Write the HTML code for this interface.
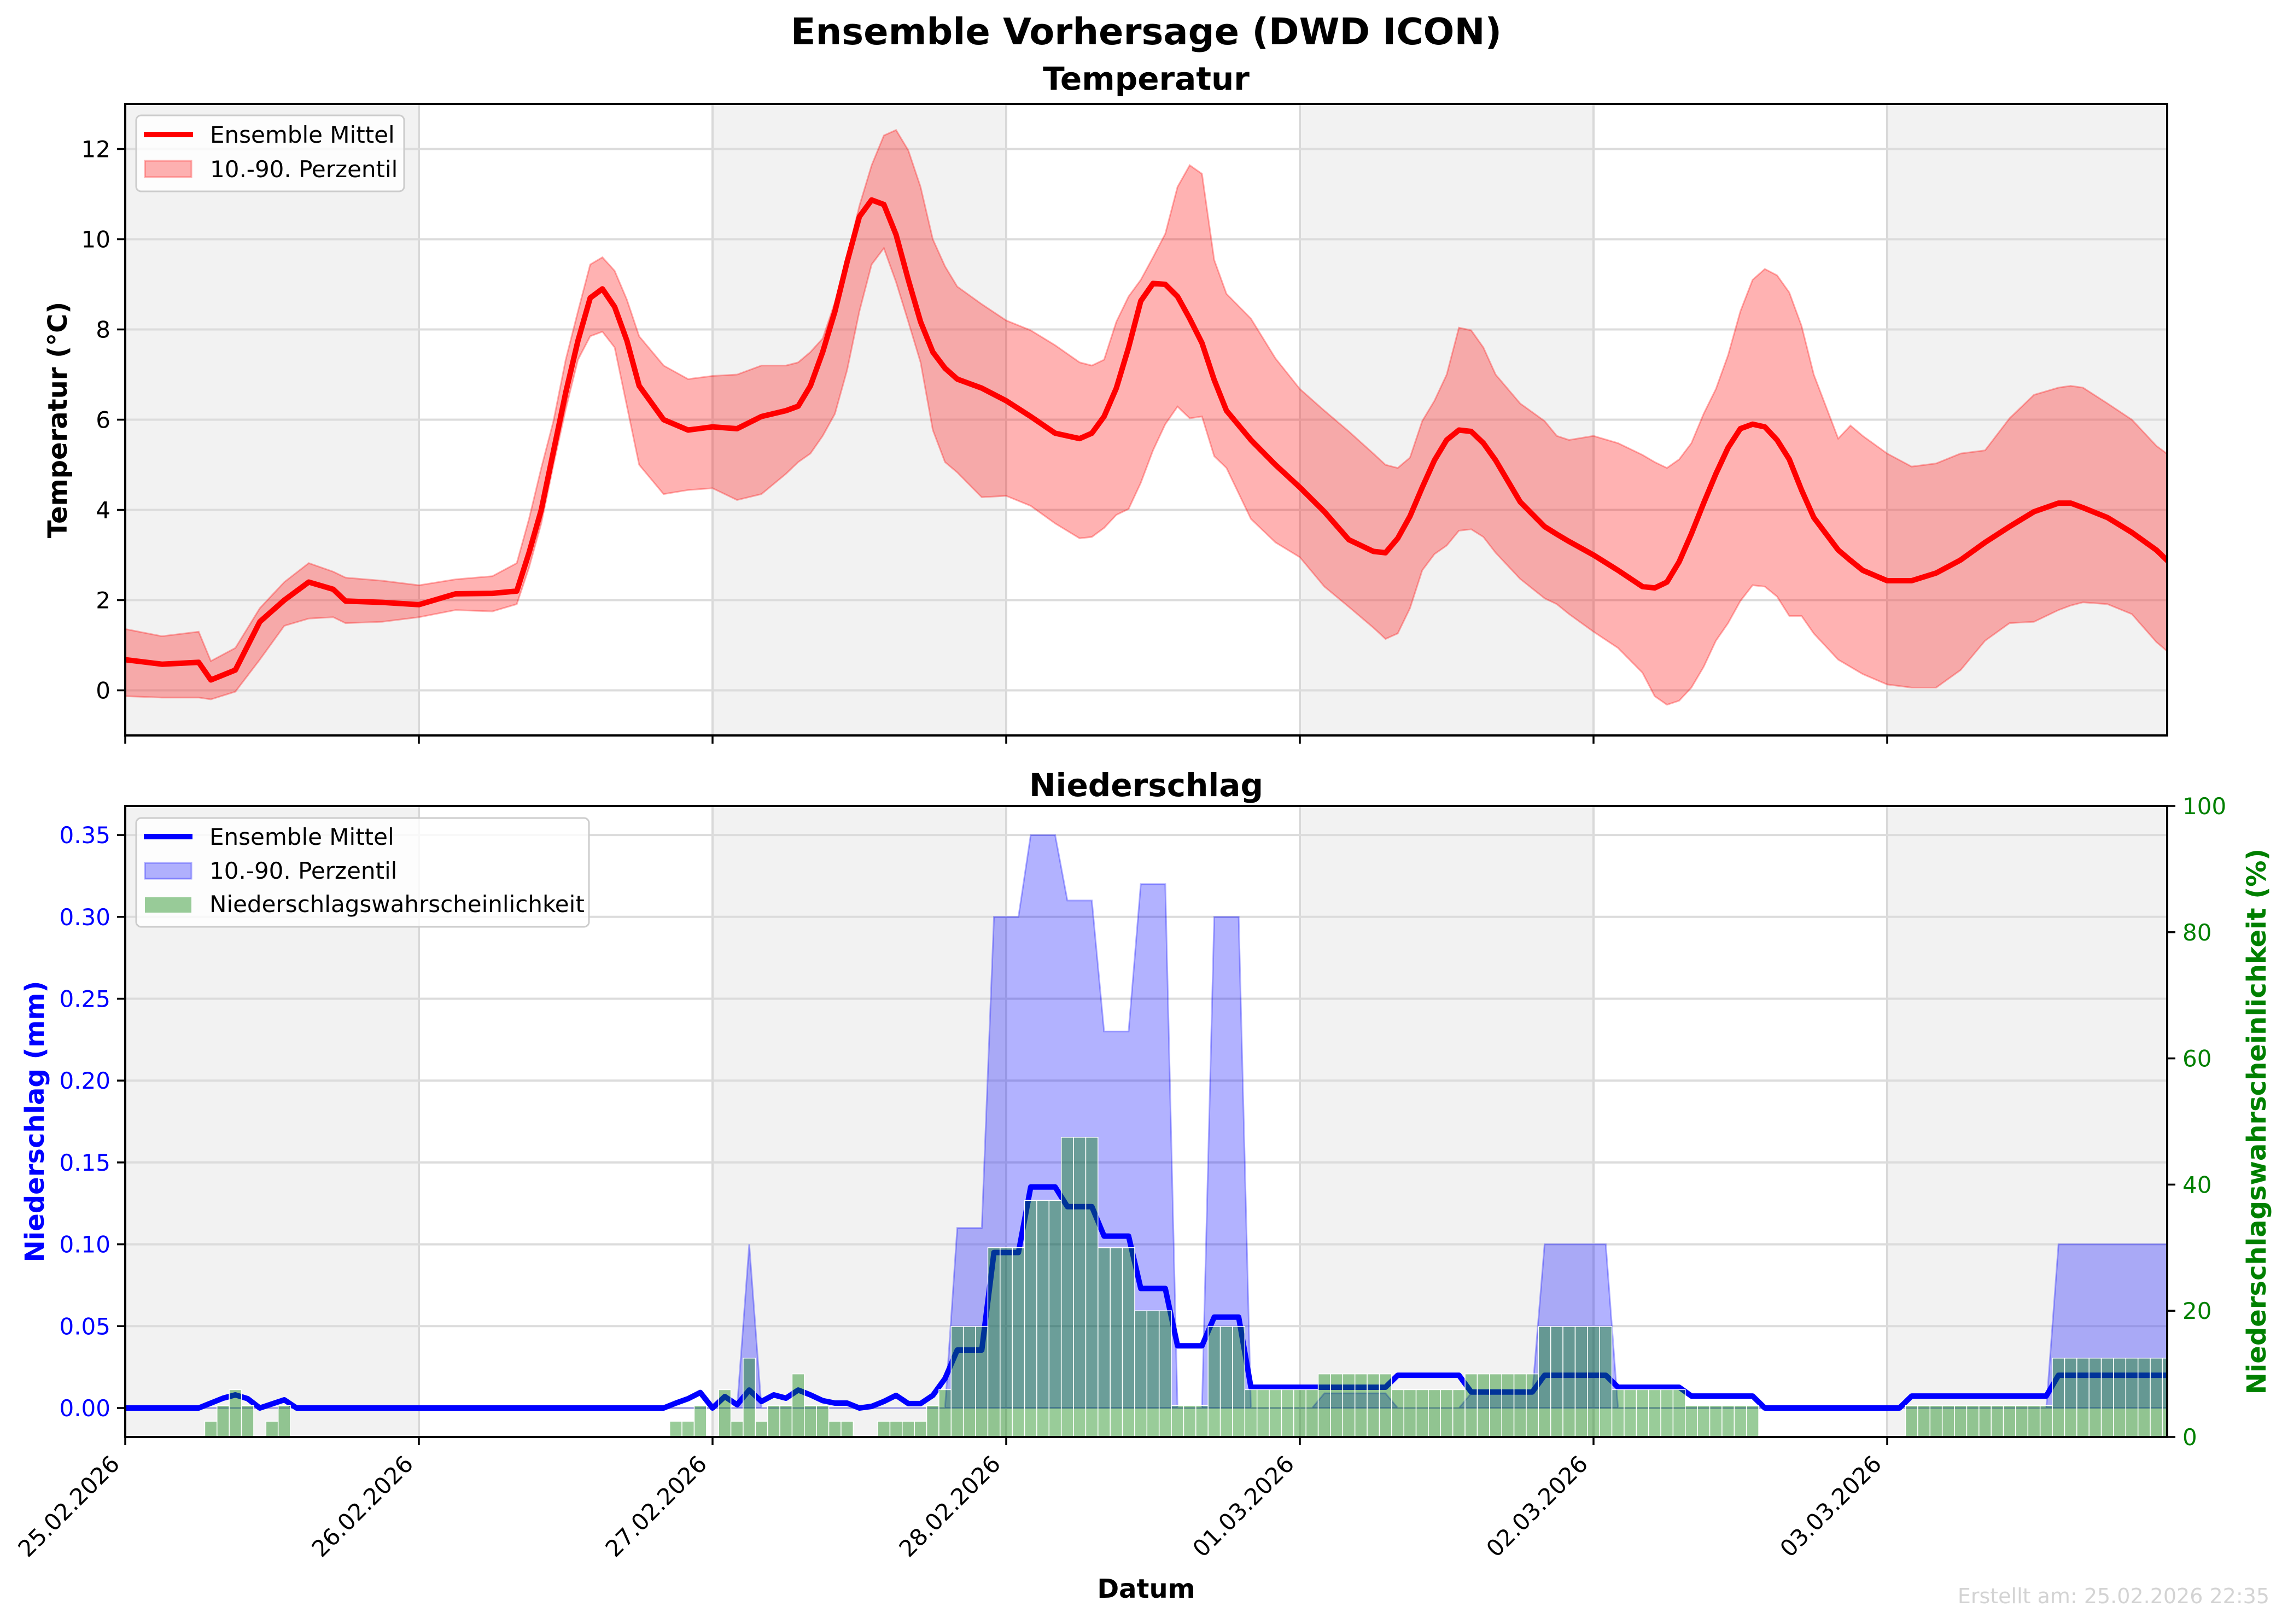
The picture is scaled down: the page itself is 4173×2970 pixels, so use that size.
<!DOCTYPE html>
<html><head><meta charset="utf-8"><title>Ensemble Vorhersage (DWD ICON)</title>
<style>html,body{margin:0;padding:0;background:#fff}svg{display:block;font-family:"DejaVu Sans","Liberation Sans",sans-serif}</style>
</head><body>
<svg id="fig" xmlns="http://www.w3.org/2000/svg" width="4173" height="2970" viewBox="0 0 4173 2970">
<defs>
<clipPath id="clipT"><rect x="229" y="190" width="3734" height="1155"/></clipPath>
<clipPath id="clipP"><rect x="229" y="1474" width="3734" height="1154"/></clipPath>
</defs>
<rect x="0" y="0" width="4173" height="2970" fill="#fff"/>
<text x="2096" y="81" text-anchor="middle" font-size="67" font-weight="bold">Ensemble Vorhersage (DWD ICON)</text>
<text x="2096" y="164" text-anchor="middle" font-size="58" font-weight="bold">Temperatur</text>
<text x="2096" y="1456" text-anchor="middle" font-size="58" font-weight="bold">Niederschlag</text>
<g id="gT"></g>
<g id="gP"></g>
<text transform="translate(122,768) rotate(-90)" text-anchor="middle" font-size="48" font-weight="bold">Temperatur (°C)</text>
<text transform="translate(80,2051) rotate(-90)" text-anchor="middle" font-size="48" font-weight="bold" fill="#0000ff">Niederschlag (mm)</text>
<text transform="translate(4143,2051) rotate(-90)" text-anchor="middle" font-size="48" font-weight="bold" fill="#008000">Niederschlagswahrscheinlichkeit (%)</text>
<text x="2096" y="2922" text-anchor="middle" font-size="48" font-weight="bold">Datum</text>
<text x="4150" y="2932" text-anchor="end" font-size="38" fill="#d3d3d3">Erstellt am: 25.02.2026 22:35</text>
<g>
<rect x="249" y="211" width="490" height="139" rx="9" fill="#ffffff" fill-opacity="0.8" stroke="#cccccc" stroke-width="3"/>
<line x1="263" y1="246" x2="353" y2="246" stroke="#ff0000" stroke-width="10"/>
<text x="384" y="261" font-size="42">Ensemble Mittel</text>
<rect x="265" y="294" width="85" height="30" fill="#ff0000" fill-opacity="0.3" stroke="#ff0000" stroke-opacity="0.3" stroke-width="3"/>
<text x="384" y="324" font-size="42">10.-90. Perzentil</text>
</g>
<g id="legP">
<rect x="249" y="1496" width="828" height="199" rx="9" fill="#ffffff" fill-opacity="0.8" stroke="#cccccc" stroke-width="3"/>
<line x1="263" y1="1530" x2="352" y2="1530" stroke="#0000ff" stroke-width="10"/>
<text x="383" y="1545" font-size="42">Ensemble Mittel</text>
<rect x="265" y="1578" width="85" height="29" fill="#0000ff" fill-opacity="0.3" stroke="#0000ff" stroke-opacity="0.3" stroke-width="3"/>
<text x="383" y="1607" font-size="42">10.-90. Perzentil</text>
<rect x="265" y="1641" width="85" height="28" fill="#008000" fill-opacity="0.4"/>
<text x="383" y="1668" font-size="42">Niederschlagswahrscheinlichkeit</text>
</g>
</svg>
<script>
// ---------- data ----------
const dayLabels = ["25.02.2026","26.02.2026","27.02.2026","28.02.2026","01.03.2026","02.03.2026","03.03.2026"];
const tempTicks = [0,2,4,6,8,10,12];
const precipTicks = [0.00,0.05,0.10,0.15,0.20,0.25,0.30,0.35];
const probTicks = [0,20,40,60,80,100];
// temperature: hours since 25.02 00:00
const tempHours = [0,3,6,7,9,11,13,15,17,18,21,24,27,30,32,33,34,35,36,37,38,39,40,41,42,44,46,48,50,52,54,55,56,57,58,59,60,61,62,63,64,65,66,67,68,70,72,74,76,78,79,80,81,82,83,84,85,86,87,88,89,90,92,94,96,98,100,102,103,104,105,106,107,108,109,110,111,112,114,116,117,118,120,122,124,125,126,127,128,129,130,131,132,133,134,135,136,137,138,140,141,142,144,146,148,150,152,154,156,158,159,160,162,164,166,167];
const tempMean = [0.68,0.58,0.62,0.23,0.45,1.52,2.0,2.4,2.24,1.98,1.95,1.9,2.14,2.15,2.2,3.05,4.0,5.3,6.6,7.75,8.7,8.9,8.5,7.75,6.75,6.0,5.77,5.84,5.8,6.07,6.2,6.3,6.75,7.5,8.4,9.5,10.5,10.87,10.77,10.1,9.1,8.17,7.5,7.14,6.9,6.7,6.42,6.07,5.7,5.58,5.7,6.07,6.7,7.6,8.63,9.02,9.0,8.73,8.24,7.7,6.88,6.2,5.55,5.0,4.5,3.96,3.34,3.08,3.05,3.37,3.86,4.5,5.1,5.55,5.77,5.74,5.48,5.1,4.18,3.63,3.46,3.3,3.0,2.66,2.3,2.27,2.4,2.85,3.47,4.15,4.8,5.38,5.8,5.9,5.84,5.55,5.12,4.44,3.83,3.11,2.88,2.66,2.43,2.43,2.6,2.89,3.28,3.63,3.96,4.15,4.15,4.05,3.83,3.5,3.11,2.85];
const tempP90 = [1.36,1.2,1.3,0.65,0.94,1.82,2.4,2.82,2.63,2.5,2.43,2.33,2.46,2.53,2.82,3.8,4.93,5.97,7.33,8.4,9.44,9.6,9.3,8.66,7.85,7.2,6.9,6.97,7.0,7.2,7.2,7.27,7.5,7.8,8.6,9.6,10.74,11.64,12.3,12.42,11.97,11.16,10.0,9.4,8.95,8.56,8.2,7.98,7.65,7.27,7.2,7.33,8.17,8.73,9.1,9.6,10.12,11.16,11.64,11.45,9.54,8.79,8.24,7.36,6.68,6.2,5.74,5.25,5.0,4.93,5.16,5.97,6.42,7.0,8.04,7.98,7.6,7.0,6.36,5.97,5.64,5.55,5.64,5.48,5.22,5.06,4.93,5.12,5.48,6.13,6.68,7.43,8.4,9.1,9.34,9.2,8.82,8.08,7.0,5.58,5.87,5.64,5.25,4.96,5.03,5.25,5.32,6.03,6.55,6.71,6.75,6.71,6.36,6.0,5.42,5.22];
const tempP10 = [-0.13,-0.16,-0.16,-0.2,-0.03,0.68,1.43,1.59,1.62,1.49,1.52,1.62,1.78,1.75,1.91,2.72,3.7,5.0,6.23,7.33,7.85,7.95,7.6,6.3,5.0,4.35,4.44,4.48,4.22,4.35,4.8,5.06,5.25,5.64,6.13,7.1,8.4,9.44,9.8,9.05,8.17,7.27,5.77,5.06,4.83,4.28,4.31,4.09,3.7,3.37,3.4,3.6,3.89,4.02,4.6,5.32,5.9,6.29,6.03,6.07,5.19,4.93,3.8,3.28,2.95,2.3,1.85,1.39,1.14,1.26,1.82,2.66,3.02,3.21,3.54,3.57,3.4,3.05,2.47,2.04,1.91,1.69,1.3,0.94,0.39,-0.13,-0.32,-0.23,0.06,0.52,1.1,1.49,1.98,2.33,2.3,2.08,1.65,1.65,1.26,0.68,0.52,0.36,0.13,0.06,0.06,0.45,1.1,1.49,1.52,1.78,1.88,1.95,1.91,1.69,1.07,0.84];
// precipitation: hourly values, hour 0 .. 167
const precipMean = [
0,0,0,0,0,0,0,0.003,0.006,0.008,0.0057,0,
0.0025,0.005,0,0,0,0,0,0,0,0,0,0,
0,0,0,0,0,0,0,0,0,0,0,0,
0,0,0,0,0,0,0,0,0,0.003,0.0057,0.0095,
0,0.007,0.002,0.011,0.004,0.008,0.006,0.011,0.008,0.0045,0.003,0.003,
0,0.001,0.004,0.0077,0.0027,0.0027,0.0077,0.018,0.0354,0.0354,0.0354,0.095,
0.095,0.095,0.135,0.135,0.135,0.123,0.123,0.123,0.105,0.105,0.105,0.073,
0.073,0.073,0.038,0.038,0.038,0.0555,0.0555,0.0555,0.0127,0.0127,0.0127,0.0127,
0.0127,0.0127,0.0127,0.0127,0.0127,0.0127,0.0127,0.0127,0.02,0.02,0.02,0.02,
0.02,0.02,0.0098,0.0098,0.0098,0.0098,0.0098,0.0098,0.02,0.02,0.02,0.02,
0.02,0.02,0.0127,0.0127,0.0127,0.0127,0.0127,0.0127,0.0073,0.0073,0.0073,0.0073,
0.0073,0.0073,0,0,0,0,0,0,0,0,0,0,
0,0,0.0073,0.0073,0.0073,0.0073,0.0073,0.0073,0.0073,0.0073,0.0073,0.0073,
0.0073,0.0073,0.02,0.02,0.02,0.02,0.02,0.02,0.02,0.02,0.02,0.02];
const precipP90 = [
0,0,0,0,0,0,0,0,0,0,0,0,
0,0,0,0,0,0,0,0,0,0,0,0,
0,0,0,0,0,0,0,0,0,0,0,0,
0,0,0,0,0,0,0,0,0,0,0,0,
0,0,0,0.1,0,0,0,0,0,0,0,0,
0,0,0,0,0,0,0,0,0.11,0.11,0.11,0.30,
0.30,0.30,0.35,0.35,0.35,0.31,0.31,0.31,0.23,0.23,0.23,0.32,
0.32,0.32,0,0,0,0.30,0.30,0.30,0,0,0,0,
0,0,0.009,0.009,0.009,0.009,0.009,0.009,0,0,0,0,
0,0,0.009,0.009,0.009,0.009,0.009,0.009,0.1,0.1,0.1,0.1,
0.1,0.1,0,0,0,0,0,0,0,0,0,0,
0,0,0,0,0,0,0,0,0,0,0,0,
0,0,0,0,0,0,0,0,0,0,0,0,
0,0,0.1,0.1,0.1,0.1,0.1,0.1,0.1,0.1,0.1,0.1];
const precipP10 = [
0,0,0,0,0,0,0,0,0,0,0,0, 0,0,0,0,0,0,0,0,0,0,0,0, 0,0,0,0,0,0,0,0,0,0,0,0,
0,0,0,0,0,0,0,0,0,0,0,0, 0,0,0,0,0,0,0,0,0,0,0,0, 0,0,0,0,0,0,0,0,0,0,0,0,
0,0,0,0,0,0,0,0,0,0,0,0, 0,0,0,0,0,0,0,0,0,0,0,0, 0,0,0,0,0,0,0,0,0,0,0,0,
0,0,0,0,0,0,0,0,0,0,0,0, 0,0,0,0,0,0,0,0,0,0,0,0, 0,0,0,0,0,0,0,0,0,0,0,0,
0,0,0,0,0,0,0,0,0,0,0,0, 0,0,0,0,0,0,0,0,0,0,0,0];
const precipProb = [
0,0,0,0,0,0,0,2.5,5,7.5,5,0,
2.5,5,0,0,0,0,0,0,0,0,0,0,
0,0,0,0,0,0,0,0,0,0,0,0,
0,0,0,0,0,0,0,0,0,2.5,2.5,5,
0,7.5,2.5,12.5,2.5,5,5,10,5,5,2.5,2.5,
0,0,2.5,2.5,2.5,2.5,5,7.5,17.5,17.5,17.5,30,
30,30,37.5,37.5,37.5,47.5,47.5,47.5,30,30,30,20,
20,20,5,5,5,17.5,17.5,17.5,7.5,7.5,7.5,7.5,
7.5,7.5,10,10,10,10,10,10,7.5,7.5,7.5,7.5,
7.5,7.5,10,10,10,10,10,10,17.5,17.5,17.5,17.5,
17.5,17.5,7.5,7.5,7.5,7.5,7.5,7.5,5,5,5,5,
5,5,0,0,0,0,0,0,0,0,0,0,
0,0,5,5,5,5,5,5,5,5,5,5,
5,5,12.5,12.5,12.5,12.5,12.5,12.5,12.5,12.5,12.5,12.5];

// ---------- axes ----------
const L = 229, R = 3963;
const tT = 190, bT = 1345, tP = 1474, bP = 2628;
const pxPerHour = 537 / 24;
const xS = h => L + h * pxPerHour;
const yTemp = v => bT - (v - (-1)) * (bT - tT) / 14;
const yPre = v => 2575 - v * 2994;
const yProb = p => bP - p * (bP - tP) / 100;
const NS = "http://www.w3.org/2000/svg";
function mk(tag, attrs, parent) {
  const e = document.createElementNS(NS, tag);
  for (const k in attrs) e.setAttribute(k, attrs[k]);
  parent.appendChild(e);
  return e;
}
const gT = document.getElementById('gT');
const gP = document.getElementById('gP');
const legP = document.getElementById('legP');

function panelBase(g, top, bot, clip) {
  const inner = mk('g', {'clip-path': 'url(#' + clip + ')'}, g);
  
  
  for (let d = 0; d < dayLabels.length; d += 2) {
    const s = mk('rect', {x: xS(d * 24), y: top, width: 24 * pxPerHour, height: bot - top, fill: '#f2f2f2'}, inner);
    
    
  }
  for (let d = 1; d < dayLabels.length; d++) {
    const gl = mk('line', {x1: xS(d * 24), x2: xS(d * 24), y1: top, y2: bot, stroke: '#d9d9d9', 'stroke-width': 4}, inner);
    
    
  }
  return inner;
}
function frame(g, top, bot, withLabels) {
  const f = mk('rect', {x: L, y: top, width: R - L, height: bot - top, fill: 'none', stroke: '#000', 'stroke-width': 4}, g);
  
  
  for (let d = 0; d < dayLabels.length; d++) {
    const x = xS(d * 24);
    const tk = mk('line', {x1: x, x2: x, y1: bot, y2: bot + 15, stroke: '#000', 'stroke-width': 3.5}, g);
    
    
    if (withLabels) {
      const t = mk('text', {transform: 'translate(' + (x - 8) + ',' + (bot + 52) + ') rotate(-45)', 'text-anchor': 'end', 'font-size': 42}, g);
      t.textContent = dayLabels[d];
      
      
    }
  }
}
function bandPath(xs, hi, lo, xf, yf) {
  let d = '';
  for (let i = 0; i < xs.length; i++) d += (i ? 'L' : 'M') + xf(xs[i]).toFixed(1) + ',' + yf(hi[i]).toFixed(1);
  for (let i = xs.length - 1; i >= 0; i--) d += 'L' + xf(xs[i]).toFixed(1) + ',' + yf(lo[i]).toFixed(1);
  return d + 'Z';
}
function linePath(xs, v, xf, yf) {
  let d = '';
  for (let i = 0; i < xs.length; i++) d += (i ? 'L' : 'M') + xf(xs[i]).toFixed(1) + ',' + yf(v[i]).toFixed(1);
  return d;
}

// ---------- temperature panel ----------
const innerT = panelBase(gT, tT, bT, 'clipT');
tempTicks.forEach(v => {
  const gl = mk('line', {x1: L, x2: R, y1: yTemp(v), y2: yTemp(v), stroke: '#dcdcdc', 'stroke-width': 4}, innerT);
  
  
});
const band = mk('path', {d: bandPath(tempHours, tempP90, tempP10, xS, yTemp), fill: '#ff0000', 'fill-opacity': 0.3, stroke: '#ff0000', 'stroke-opacity': 0.3, 'stroke-width': 3}, innerT);


const tl = mk('path', {d: linePath(tempHours, tempMean, xS, yTemp), fill: 'none', stroke: '#ff0000', 'stroke-width': 10, 'stroke-linejoin': 'round'}, innerT);


frame(gT, tT, bT, false);
tempTicks.forEach(v => {
  const y = yTemp(v);
  const tk = mk('line', {x1: L - 15, x2: L, y1: y, y2: y, stroke: '#000', 'stroke-width': 3.5}, gT);
  
  
  const t = mk('text', {x: L - 27, y: y + 15, 'text-anchor': 'end', 'font-size': 42}, gT);
  t.textContent = String(v);
  
  
});

// ---------- precipitation panel ----------
const innerP = panelBase(gP, tP, bP, 'clipP');
precipTicks.forEach(v => {
  const gl = mk('line', {x1: L, x2: R, y1: yPre(v), y2: yPre(v), stroke: '#dcdcdc', 'stroke-width': 4}, innerP);
  
  
});
const hours = precipMean.map((_, i) => i);
const pb = mk('path', {d: bandPath(hours, precipP90, precipP10, xS, yPre), fill: '#0000ff', 'fill-opacity': 0.3, stroke: '#0000ff', 'stroke-opacity': 0.3, 'stroke-width': 3}, innerP);


const pl = mk('path', {d: linePath(hours, precipMean, xS, yPre), fill: 'none', stroke: '#0000ff', 'stroke-width': 10, 'stroke-linejoin': 'round'}, innerP);


precipProb.forEach((p, i) => {
  if (p <= 0) return;
  const b = mk('rect', {x: xS(i - 0.5), y: yProb(p), width: pxPerHour, height: bP - yProb(p), fill: '#008000', 'fill-opacity': 0.4, stroke: '#ffffff', 'stroke-width': 1.5}, innerP);
  
  
});
frame(gP, tP, bP, true);
precipTicks.forEach(v => {
  const y = yPre(v);
  const tk = mk('line', {x1: L - 15, x2: L, y1: y, y2: y, stroke: '#000', 'stroke-width': 3.5}, gP);
  
  
  const t = mk('text', {x: L - 27, y: y + 15, 'text-anchor': 'end', 'font-size': 42, fill: '#0000ff'}, gP);
  t.textContent = v.toFixed(2);
  
  
});
probTicks.forEach(v => {
  const y = yProb(v);
  const tk = mk('line', {x1: R, x2: R + 15, y1: y, y2: y, stroke: '#000', 'stroke-width': 3.5}, gP);
  
  
  const t = mk('text', {x: R + 28, y: y + 15, 'text-anchor': 'start', 'font-size': 42, fill: '#008000'}, gP);
  t.textContent = String(v);
  
  
});
// keep legend on top
legP.parentNode.appendChild(legP);
</script>
</body></html>
